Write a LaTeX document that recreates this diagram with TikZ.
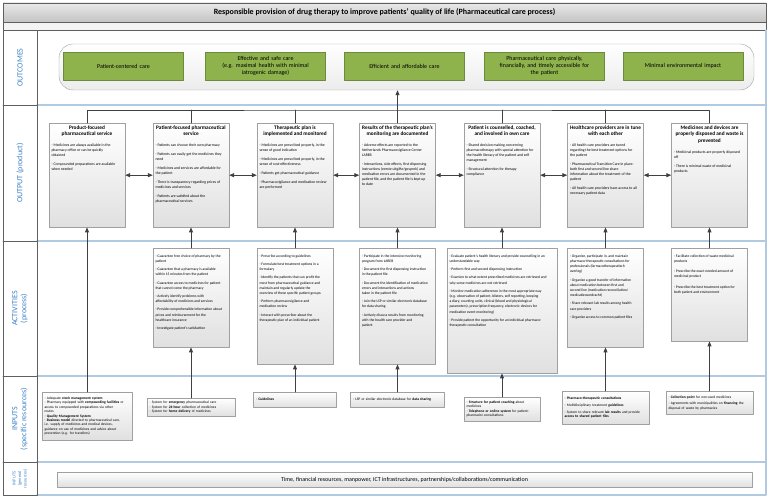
\documentclass[tikz,border=0pt]{standalone}
\usepackage{fontspec}
\setmainfont{Carlito}
\usepackage{tikz}
\usetikzlibrary{arrows.meta,shadows,positioning}

\definecolor{lblblue}{RGB}{62,130,196}
\definecolor{framegray}{RGB}{95,95,95}
\definecolor{sepblue}{RGB}{176,202,226}
\definecolor{titletop}{RGB}{232,232,232}
\definecolor{titlebot}{RGB}{196,196,196}
\definecolor{stripgray}{RGB}{244,244,244}
\definecolor{goalgreen}{RGB}{142,178,76}
\definecolor{goalline}{RGB}{108,138,62}
\definecolor{boxline}{RGB}{160,160,160}
\definecolor{cardgray}{RGB}{224,224,224}
\definecolor{panelgray}{RGB}{236,236,236}
\definecolor{linkgray}{RGB}{64,64,64}

\tikzset{
  frame/.style={draw=framegray,line width=0.8pt},
  sep/.style={draw=sepblue,line width=1.2pt},
  lbl/.style={rotate=90,text=lblblue,align=center,font=\fontsize{8}{9}\selectfont},
  goal/.style={draw=goalline,fill=goalgreen,text width=116pt,minimum height=28pt,
    align=center,inner sep=2pt,font=\fontsize{6}{6.8}\selectfont},
  card/.style={draw=boxline,top color=white,bottom color=cardgray,inner sep=2.5pt,anchor=north,
    drop shadow={shadow xshift=0.7pt,shadow yshift=-0.7pt,opacity=0.12}},
  incard/.style={card,align=left,font=\fontsize{3.6}{4.4}\selectfont},
  link/.style={draw=linkgray,line width=0.8pt},
  arr/.style={link,-{Triangle[length=5pt,width=4pt]}},
  darr/.style={link,{Triangle[length=5pt,width=4pt]}-{Triangle[length=5pt,width=4pt]}}
}

% card contents
\newcommand{\ttl}[1]{{\centering\bfseries\fontsize{5.3}{6.4}\selectfont #1\par}\vspace{6pt}}
\newcommand{\itm}[2][4pt]{{\hangindent=4pt\hangafter=1\noindent-~#2\par}\vspace{#1}}
\newcommand{\topbox}[3]{\parbox[c][#2][t]{#1}{\raggedright\fontsize{3.8}{5}\selectfont#3}}
\newcommand{\actfont}{\fontsize{3.7}{5.2}\selectfont\vspace*{4pt}}

\begin{document}
\begin{tikzpicture}[x=1pt,y=-1pt,line cap=round,line join=round]
  \useasboundingbox (0,0) rectangle (769,502);

  % frame and lanes
  \draw[frame,top color=titletop,bottom color=titlebot] (3,3) rectangle (766,22);
  \node[font=\fontsize{8}{9}\selectfont\bfseries] (title) at (384.5,12.5)
    {Responsible provision of drug therapy to improve patients' quality of life (Pharmaceutical care process)};
  \draw[frame,fill=stripgray] (3,22) rectangle (766,30);
  \draw[sep] (766,30) -- (766,495) -- (37,495);
  \foreach \y in {105,241,376,462} \draw[sep] (37,\y) -- (766,\y);
  \draw[frame] (3,30) rectangle (37,495);
  \foreach \y in {105,241,376,462} \draw[frame] (3,\y) -- (37,\y);

  % lane labels
  \node[lbl] (louc) at (20,67.5) {OUTCOMES};
  \node[lbl] (lout) at (20,173) {OUTPUT (product)};
  \node[lbl] (lact) at (20,308.5) {ACTIVITIES\\(process)};
  \node[lbl] (lins) at (20,419) {INPUTS\\(specific resources)};
  \node[lbl,font=\fontsize{4.5}{5.5}\selectfont] (lgen) at (20,478.5) {INPUTS\\(general\\resources)};

  % outcomes
  \node[draw=boxline,rounded corners=14pt,top color=white,bottom color=panelgray,
        minimum width=695pt,minimum height=46pt] (goals) at (406.5,67) {};
  \node[goal] (g1) at (123.5,66) {Patient-centered care};
  \node[goal] (g2) at (265.5,66) {Effective and safe care\\(e.g. maximal health with minimal\\iatrogenic damage)};
  \node[goal] (g3) at (404.5,66) {Efficient and affordable care};
  \node[goal] (g4) at (544.5,66) {Pharmaceutical care physically,\\financially, and timely accessible for\\the patient};
  \node[goal] (g5) at (683,66) {Minimal environmental impact};

  % output
  \node[card] (o1) at (87,123) {\topbox{71pt}{99pt}{%
    \ttl{Product-focused\\pharmaceutical service}
    \itm{Medicines are always available in the\\pharmacy office or can be quickly\\obtained}
    \itm{Compounded preparations are available\\when needed}}};
  \node[card] (o2) at (191,123) {\topbox{71pt}{99pt}{%
    \ttl{Patient-focused pharmaceutical\\service}
    \itm{Patients can choose their own pharmacy}
    \itm{Patients can easily get the medicines they\\need}
    \itm{Medicines and services are affordable for\\the patient}
    \itm{There is transparency regarding prices of\\medicines and services}
    \itm{Patients are satisfied about the\\pharmaceutical services}}};
  \node[card] (o3) at (295,123) {\topbox{71pt}{99pt}{%
    \ttl{Therapeutic plan is\\implemented and monitored}
    \itm{Medicines are prescribed properly, in the\\sense of good indication}
    \itm{Medicines are prescribed properly, in the\\sense of cost-effectiveness}
    \itm{Patients get pharmaceutical guidance}
    \itm{Pharmacovigilance and medication review\\are performed}}};
  \node[card] (o4) at (397.5,123) {\topbox{71pt}{99pt}{%
    \ttl{Results of the therapeutic plan's\\monitoring are documented}
    \itm{Adverse effects are reported to the\\Netherlands Pharmacovigilance Center\\LAREB}
    \itm{Interactions, side effects, first dispensing\\instructions (eerste uitgifte/gesprek) and\\medication errors are documented in the\\patient file, and the patient file is kept up\\to date}}};
  \node[card] (o5) at (502,123) {\topbox{71pt}{99pt}{%
    \ttl{Patient is counselled, coached,\\and involved in own care}
    \itm{Shared decision making concerning\\pharmacotherapy with special attention for\\the health literacy of the patient and self\\management}
    \itm{Structural attention for therapy\\compliance}}};
  \node[card] (o6) at (605.5,123) {\topbox{71pt}{99pt}{%
    \ttl{Healthcare providers are in tune\\with each other}
    \itm{All health care providers are tuned\\regarding the best treatment options for\\the patient}
    \itm{Pharmaceutical Transition Care in place:\\both first and second line share\\information about the treatment of the\\patient}
    \itm{All health care providers have access to all\\necessary patient data}}};
  \node[card] (o7) at (709.5,123) {\topbox{71pt}{99pt}{%
    \ttl{Medicines and devices are\\properly disposed and waste is\\prevented}
    \itm{Medicinal products are properly disposed\\off}
    \itm{There is minimal waste of medicinal\\products}}};

  % activities
  \node[card] (a2) at (191,248) {\topbox{71pt}{94pt}{\actfont
    \itm[3pt]{Guarantee free choice of pharmacy by the\\patient}
    \itm[3pt]{Guarantee that a pharmacy is available\\within 15 minutes from the patient}
    \itm[3pt]{Guarantee access to medicines for patient\\that cannot come the pharmacy}
    \itm[3pt]{Actively identify problems with\\affordability of medicines and services}
    \itm[3pt]{Provide comprehensible information about\\prices and reimbursement for the\\healthcare insurance}
    \itm[3pt]{Investigate patient's satisfaction}}};
  \node[card] (a3) at (295,248) {\topbox{71pt}{111pt}{\actfont
    \itm[3pt]{Prescribe according to guidelines}
    \itm[3pt]{Formulate best treatment options in a\\formulary}
    \itm[3pt]{Identify the patients that can profit the\\most from pharmaceutical guidance and\\maintain and regularly update the\\overview of these specific patient groups}
    \itm[3pt]{Perform pharmacovigilance and\\medication review}
    \itm[3pt]{Interact with prescriber about the\\therapeutic plan of an individual patient}}};
  \node[card] (a4) at (397.5,248) {\topbox{71pt}{111pt}{\actfont
    \itm[3pt]{Participate in the intensive monitoring\\program from LAREB}
    \itm[3pt]{Document the first dispensing instruction\\in the patient file}
    \itm[3pt]{Document the identification of medication\\errors and interactions and actions\\taken in the patient file}
    \itm[3pt]{Join the LSP or similar electronic database\\for data sharing}
    \itm[3pt]{Actively discuss results from monitoring\\with the health care provider and\\patient}}};
  \node[card] (a5) at (502,248) {\topbox{105pt}{120pt}{\actfont
    \itm[3pt]{Evaluate patient's health literacy and provide counselling in an\\understandable way}
    \itm[3pt]{Perform first and second dispensing instruction}
    \itm[3pt]{Examine to what extent prescribed medicines are retrieved and\\why some medicines are not retrieved}
    \itm[3pt]{Monitor medication adherence in the most appropriate way\\(e.g. observation of patient, blisters, self reporting, keeping\\a diary, counting units, clinical (blood and physiological\\parameters), prescription frequency, electronic devices for\\medication event monitoring)}
    \itm[3pt]{Provide patient the opportunity for an individual pharmaco-\\therapeutic consultation}}};
  \node[card] (a6) at (605.5,248) {\topbox{71pt}{94pt}{\actfont
    \itm[3pt]{Organize, participate in, and maintain\\pharmaco-therapeutic consultations for\\professionals (farmacotherapeutisch\\overleg)}
    \itm[3pt]{Organize a good transfer of information\\about medication between first and\\second line (medication reconciliation/\\medicatieoverdracht)}
    \itm[3pt]{Share relevant lab results among health\\care providers}
    \itm[3pt]{Organize access to common patient files}}};
  \node[card] (a7) at (709.5,248) {\topbox{71pt}{88pt}{\actfont
    \itm[5pt]{Facilitate collection of waste medicinal\\products}
    \itm[5pt]{Prescribe the exact needed amount of\\medicinal product}
    \itm[5pt]{Prescribe the best treatment option for\\both patient and environment}}};

  % specific inputs
  \node[incard,text width=85pt,minimum height=48pt] (i1) at (87,392) {%
    \itm[0pt]{Adequate \textbf{stock management system}}
    \itm[0pt]{Pharmacy equipped with \textbf{compounding facilities} or\\access to compounded preparations via other\\routes}
    \itm[0pt]{\textbf{Quality Management System}}
    \itm[0pt]{\textbf{Business model} directed to pharmaceutical care,\\i.e. supply of medicines and medical devices,\\guidance on use of medicines and advice about\\prevention (e.g. for travellers)}};
  \node[incard,text width=83pt,minimum height=18pt] (i2) at (191,398) {%
    \itm[0pt]{System for \textbf{emergency} pharmaceutical care}
    \itm[0pt]{System for \textbf{24-hour} collection of medicines}
    \itm[0pt]{System for \textbf{home delivery} of medicines}};
  \node[incard,text width=78pt,minimum height=15pt] (i3) at (295,392) {%
    \itm[0pt]{\textbf{Guidelines}}};
  \node[incard,text width=89pt,minimum height=15pt] (i4) at (397.5,392) {%
    \itm[0pt]{LSP or similar electronic database for \textbf{data sharing}}};
  \node[incard,text width=71pt,minimum height=24pt] (i5) at (502,397) {%
    \itm[0pt]{\textbf{Structure for patient coaching} about\\medicines}
    \itm[0pt]{\textbf{Telephone or online system} for patient-\\pharmacist consultations}};
  \node[incard,text width=82pt,minimum height=33pt] (i6) at (605.5,391) {%
    \itm[2.5pt]{\textbf{Pharmaco-therapeutic consultations}}
    \itm[2.5pt]{Multidisciplinary treatment \textbf{guidelines}}
    \itm[0pt]{System to share relevant \textbf{lab results} and provide\\\textbf{access to shared patient files}}};
  \node[incard,text width=82pt,minimum height=23pt] (i7) at (709.5,391) {%
    \itm[2.5pt]{\textbf{Collection point} for non-used medicines}
    \itm[0pt]{Agreements with municipalities on \textbf{financing} the\\disposal of waste by pharmacies}};

  % general inputs
  \node[card,anchor=center,minimum width=695pt,minimum height=15pt,font=\fontsize{6}{7}\selectfont] (gen) at (404.5,479.5)
    {Time, financial resources, manpower, ICT infrastructures, partnerships/collaborations/communication};

  % connectors
  \coordinate (bus) at (397.5,110);
  \draw[link] (o1.north) |- (bus) -| (o7.north);
  \foreach \n in {o2,o3,o4,o5,o6} \draw[link] (\n.north) -- (\n.north |- bus);
  \draw[arr] (bus) -- (bus |- goals.south);
  \foreach \a/\b in {o1/o2,o2/o3,o3/o4,o4/o5,o5/o6,o6/o7} \draw[darr] (\a.east) -- (\b.west);
  \foreach \n in {2,...,7} \draw[arr] (a\n.north) -- (o\n.south);
  \draw[arr] (i1.north) -- (o1.south);
  \foreach \n in {2,...,7} \draw[arr] (i\n.north) -- (a\n.south);
\end{tikzpicture}
\end{document}
